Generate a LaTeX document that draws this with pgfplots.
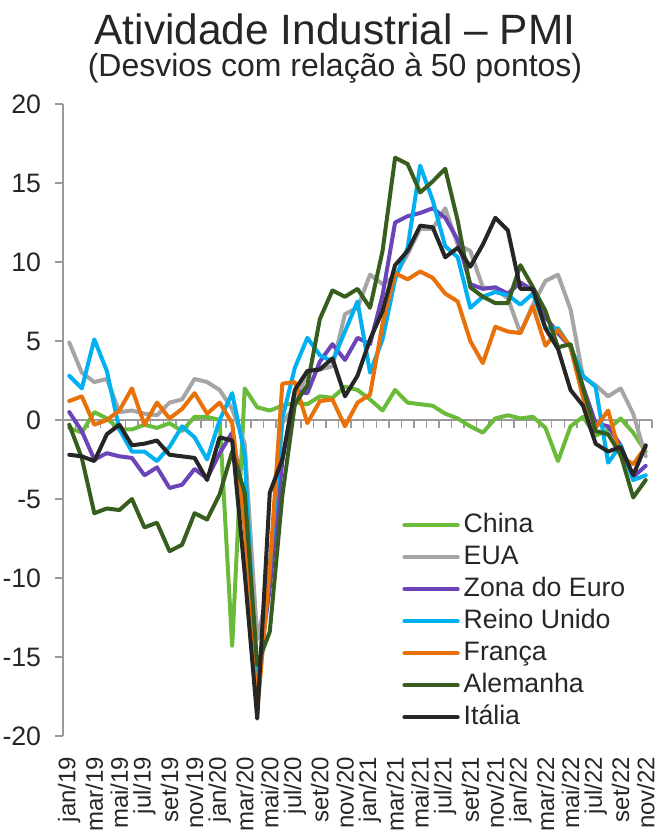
\documentclass[border=0pt]{standalone}
\usepackage{pgfplots}
\pgfplotsset{compat=1.18}
\usepackage{pgfplotstable}
\usepackage{fontspec}
\setmainfont{Liberation Sans}

\definecolor{cchina}{HTML}{6BBB3B}
\definecolor{ceua}{HTML}{A5A5A5}
\definecolor{czona}{HTML}{6A44B8}
\definecolor{creino}{HTML}{00B0F0}
\definecolor{cfranca}{HTML}{E8710A}
\definecolor{calem}{HTML}{375E1E}
\definecolor{citalia}{HTML}{262626}
\definecolor{axisgray}{HTML}{9A9A9A}
\definecolor{txt}{HTML}{262626}

% PMI industrial, desvio em relacao a 50 pontos (jan/19 = 0 ... nov/22 = 46)
\pgfplotstableread{
m  china  eua    zona   reino  franca alem   italia
0  -0.5   4.9    0.5    2.8    1.2    -0.3   -2.2
1  -0.8   3.0    -0.7   2.0    1.5    -2.4   -2.3
2  0.5    2.4    -2.5   5.1    -0.3   -5.9   -2.6
3  0.1    2.6    -2.1   3.1    0.0    -5.6   -0.9
4  -0.6   0.5    -2.3   -0.6   0.6    -5.7   -0.3
5  -0.6   0.6    -2.4   -2.0   2.0    -5.0   -1.6
6  -0.3   0.4    -3.5   -2.0   -0.3   -6.8   -1.5
7  -0.5   0.3    -3.0   -2.6   1.1    -6.5   -1.3
8  -0.2   1.1    -4.3   -1.7   0.1    -8.3   -2.2
9  -0.7   1.3    -4.1   -0.4   0.7    -7.9   -2.3
10 0.2    2.6    -3.1   -1.1   1.7    -5.9   -2.4
11 0.2    2.4    -3.7   -2.5   0.4    -6.3   -3.8
12 0.0    1.9    -2.1   0.0    1.1    -4.7   -1.1
13 -14.3  0.7    -0.8   1.7    -0.2   -2.0   -1.3
14 2.0    -1.5   -5.5   -2.2   -6.8   -4.6   -9.7
15 0.8    -13.9  -16.6  -17.4  -18.5  -15.5  -18.9
16 0.6    -10.2  -10.6  -9.3   -9.4   -13.4  -4.6
17 0.9    -0.2   -2.6   0.1    2.3    -4.8   -2.5
18 1.1    0.9    1.8    3.3    2.4    1.0    1.9
19 1.0    3.1    1.7    5.2    -0.2   2.2    3.1
20 1.5    3.2    3.7    4.1    1.2    6.4    3.2
21 1.4    3.4    4.8    3.7    1.3    8.2    3.9
22 2.1    6.7    3.8    5.6    -0.4   7.8    1.5
23 1.9    7.1    5.2    7.5    1.1    8.3    2.8
24 1.3    9.2    4.8    3.0    1.6    7.1    5.1
25 0.6    8.6    7.9    5.1    6.1    10.7   6.9
26 1.9    9.1    12.5   8.9    9.3    16.6   9.8
27 1.1    10.5   12.9   10.9   8.9    16.2   10.7
28 1.0    12.1   13.1   16.1   9.4    14.4   12.3
29 0.9    12.1   13.4   13.9   9.0    15.1   12.2
30 0.4    13.4   12.8   11.0   8.0    15.9   10.3
31 0.1    11.1   11.4   10.3   7.5    12.6   10.9
32 -0.4   10.7   8.6    7.1    5.0    8.4    9.7
33 -0.8   8.4    8.3    7.8    3.6    7.8    11.1
34 0.1    8.3    8.4    8.1    5.9    7.4    12.8
35 0.3    7.7    8.0    7.9    5.6    7.4    12.0
36 0.1    5.5    8.7    7.3    5.5    9.8    8.3
37 0.2    7.3    8.2    8.0    7.2    8.4    8.3
38 -0.5   8.8    6.5    5.8    4.7    6.9    5.8
39 -2.6   9.2    5.5    5.8    5.7    4.6    4.5
40 -0.4   7.0    4.6    4.6    4.6    4.8    1.9
41 0.2    2.7    2.1    2.8    1.4    2.0    0.9
42 -1.0   2.2    -0.2   2.1    -0.5   -0.7   -1.5
43 -0.6   1.5    -0.4   -2.7   0.6    -0.9   -2.0
44 0.1    2.0    -1.6   -1.6   -2.3   -2.2   -1.7
45 -0.8   0.4    -3.6   -3.8   -2.8   -4.9   -3.5
46 -2.0   -2.3   -2.9   -3.5   -1.7   -3.8   -1.6
}\pmi

\begin{document}
\begin{tikzpicture}
\begin{axis}[
  scale only axis,
  width=441.75pt,
  height=474pt,
  xmin=-0.5, xmax=46.5,
  ymin=-20, ymax=20,
  axis y line=left,
  axis x line=bottom,
  axis line style={-},
  x axis line style={draw=none},
  y axis line style={draw=axisgray, line width=1.1pt},
  ytick={-20,-15,-10,-5,0,5,10,15,20},
  yticklabels={-20,-15,-10,-5,0,5,10,15,20},
  tick align=outside,
  major tick length=6pt,
  ytick style={draw=axisgray, line width=1.1pt},
  xtick style={draw=none},
  yticklabel style={font=\fontsize{20}{24}\selectfont, text=txt, inner sep=0pt},
  yticklabel shift=10.25pt,
  xtick={0,2,...,46},
  xticklabels={jan/19,mar/19,mai/19,jul/19,set/19,nov/19,jan/20,mar/20,mai/20,jul/20,set/20,nov/20,jan/21,mar/21,mai/21,jul/21,set/21,nov/21,jan/22,mar/22,mai/22,jul/22,set/22,nov/22},
  xticklabel style={rotate=90, anchor=east, font=\fontsize{18}{22}\selectfont, text=txt, inner sep=0pt},
  xticklabel shift=9.5pt,
  clip=false,
  every axis plot/.append style={line width=3pt, line join=round, line cap=round},
  legend cell align=left,
  legend image code/.code={\draw[#1, line cap=round] (0pt,0pt) -- (40pt,0pt);},
  legend style={draw=none, fill=none, at={(0.569,0.358)}, anchor=north west,
    font=\fontsize{20}{24}\selectfont, text=txt,
    nodes={inner sep=0pt, text height=15pt, text depth=4pt},
    row sep=5pt,
    /tikz/every odd column/.append style={column sep=3pt}},
]
\draw[axisgray, line width=1.1pt] (axis cs:-0.5,0) -- (axis cs:46.5,0);
\pgfplotsinvokeforeach{0.5,1.5,...,46.5}{\draw[axisgray, line width=1.1pt] (axis cs:#1,0) -- ++(0pt,-6pt);}
\addplot[cchina] table[x=m, y=china] {\pmi};
\addlegendentry{China}
\addplot[ceua] table[x=m, y=eua] {\pmi};
\addlegendentry{EUA}
\addplot[czona] table[x=m, y=zona] {\pmi};
\addlegendentry{Zona do Euro}
\addplot[creino] table[x=m, y=reino] {\pmi};
\addlegendentry{Reino Unido}
\addplot[cfranca] table[x=m, y=franca] {\pmi};
\addlegendentry{França}
\addplot[calem] table[x=m, y=alem] {\pmi};
\addlegendentry{Alemanha}
\addplot[citalia] table[x=m, y=italia] {\pmi};
\addlegendentry{Itália}
\end{axis}
\node[anchor=base, text=txt, font=\fontsize{31.8}{36}\selectfont] at (204pt,518.25pt) {Atividade Industrial – PMI};
\node[anchor=base, text=txt, font=\fontsize{24}{28}\selectfont] at (204pt,494.25pt) {(Desvios com relação à 50 pontos)};
\pgfresetboundingbox
\useasboundingbox (-47.25pt,-72.75pt) rectangle (447.75pt,552pt);
\end{tikzpicture}
\end{document}
